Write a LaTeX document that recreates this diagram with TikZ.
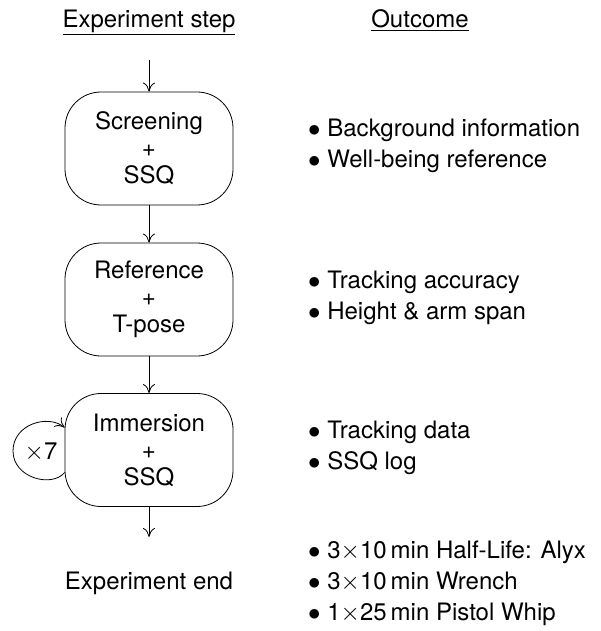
\documentclass[tikz,border=0pt]{standalone}
\usepackage{fontspec}
\setmainfont{TeX Gyre Heros}
\usetikzlibrary{arrows.meta}
\begin{document}
\begin{tikzpicture}[x=1pt,y=-1pt,
  every node/.style={font=\fontsize{24}{31}\selectfont, inner sep=0pt},
  stepbox/.style={draw, line width=0.8pt, rounded corners=36pt, minimum width=168pt, minimum height=113pt, align=center, font=\fontsize{24}{27}\selectfont},
  arr/.style={-{To[length=9pt,width=12pt]}, line width=0.8pt},
  outlist/.style={anchor=west, align=left}]
\useasboundingbox (0,0) rectangle (600,631);
\node[anchor=base] (h1) at (149,28) {\underline{Experiment step}};
\node[anchor=base] (h2) at (420,28) {\underline{Outcome}};
\coordinate (top) at (149,60);
\node[stepbox] (b1) at (149,148.5) {Screening\\+\\SSQ};
\node[stepbox] (b2) at (149,299.5) {Reference\\+\\T-pose};
\node[stepbox] (b3) at (149,450) {Immersion\\+\\SSQ};
\coordinate (bot) at (149,537);
\node (end) at (149,583) {Experiment end};
\draw[arr] (top) -- (b1);
\draw[arr] (b1) -- (b2);
\draw[arr] (b2) -- (b3);
\draw[arr] (b3) -- (bot);
\coordinate (loopleft) at (13,451);
\draw[arr] ([yshift=-22.5pt]b3.west) .. controls (52,488) and (13,478) .. (loopleft) .. controls (13,424) and (48,414) .. ([yshift=22.5pt]b3.west);
\node (times) at (41,452) {$\times$7};
\node[outlist] (o1) at (308,146) {$\bullet$ Background information\\$\bullet$ Well-being reference};
\node[outlist] (o2) at (308,297.5) {$\bullet$ Tracking accuracy\\$\bullet$ Height \& arm span};
\node[outlist] (o3) at (308,447.5) {$\bullet$ Tracking data\\$\bullet$ SSQ log};
\node[outlist] (o4) at (308,583) {$\bullet$ 3$\times$10\,min Half-Life: Alyx\\$\bullet$ 3$\times$10\,min Wrench\\$\bullet$ 1$\times$25\,min Pistol Whip};
\end{tikzpicture}
\end{document}
